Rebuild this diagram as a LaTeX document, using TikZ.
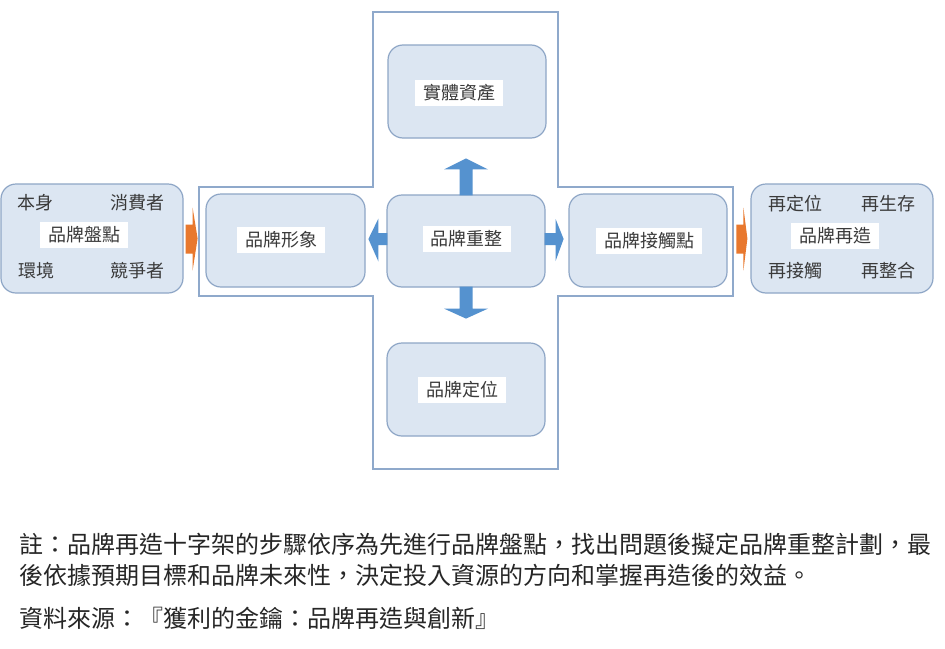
\documentclass[tikz,border=0pt]{standalone}
\usepackage{fontspec}
\setmainfont{Noto Sans CJK TC}
\usetikzlibrary{calc}
\definecolor{boxfill}{HTML}{DCE6F2}
\definecolor{boxline}{HTML}{8EA6C6}
\definecolor{crossline}{HTML}{8FA9CB}
\definecolor{arrblue}{HTML}{5592CF}
\definecolor{arrorange}{HTML}{E8782E}
\definecolor{txt}{HTML}{3A3A3A}
\tikzset{
  card/.style={draw=boxline, line width=1.2pt, fill=boxfill, rounded corners=15pt, inner sep=0pt},
  tag/.style={fill=white, inner xsep=8pt, inner ysep=5pt, text=txt, font=\fontsize{18}{21}\selectfont},
  corner/.style={inner sep=0pt, text=txt, font=\fontsize{18}{21}\selectfont},
  blockblue/.style={fill=arrblue, draw=none},
  blockorange/.style={fill=arrorange, draw=none},
  note/.style={anchor=west, inner sep=0pt, text=black!85, font=\fontsize{24}{28}\selectfont}
}
\begin{document}
\begin{tikzpicture}[x=1pt,y=-1pt]
\useasboundingbox (0,0) rectangle (945,648);
\fill[white] (0,0) rectangle (945,648);
% cross outline
\draw[crossline, line width=1.2pt] (373,12) -- (558,12) -- (558,187) -- (733,187) -- (733,296) -- (558,296) -- (558,469) -- (373,469) -- (373,296) -- (199,296) -- (199,187) -- (373,187) -- cycle;
% boxes
\node[card, minimum width=182pt, minimum height=109pt] (lbox) at (92,238.5) {};
\node[card, minimum width=182pt, minimum height=109pt] (rbox) at (842,238.5) {};
\node[card, minimum width=159pt, minimum height=93pt] (image) at (285.5,240.5) {};
\node[card, minimum width=158pt, minimum height=92pt] (core) at (466,241) {};
\node[card, minimum width=158pt, minimum height=93pt] (touch) at (648,240.5) {};
\node[card, minimum width=158pt, minimum height=93pt] (asset) at (467,91.5) {};
\node[card, minimum width=158pt, minimum height=93pt] (posn) at (466,389.5) {};
% labels
\node[tag] (limg) at (281,240) {品牌形象};
\node[tag] (lcore) at (466.5,239) {品牌重整};
\node[tag] (ltouch) at (649,241) {品牌接觸點};
\node[tag] (lasset) at (459,93) {實體資產};
\node[tag] (lposn) at (462,390) {品牌定位};
\node[tag] (linv) at (84,235) {品牌盤點};
\node[tag] (lre) at (835,236) {品牌再造};
\node[corner] (c1) at (35,203) {本身};
\node[corner] (c2) at (137,203) {消費者};
\node[corner] (c3) at (36,271) {環境};
\node[corner] (c4) at (137,271) {競爭者};
\node[corner] (c5) at (795,204) {再定位};
\node[corner] (c6) at (888,204) {再生存};
\node[corner] (c7) at (795,271) {再接觸};
\node[corner] (c8) at (888,271) {再整合};
% blue block arrows
\fill[blockblue] ($(core.north)+(-6.5,1)$) -- ++(0,-26) -- ++(-15.5,0) -- ($(core.north)+(0,-36)$) -- ($(core.north)+(22,-25)$) -- ++(-15.5,0) -- ($(core.north)+(6.5,1)$) -- cycle;
\fill[blockblue] ($(core.south)+(-6.5,-1)$) -- ++(0,22) -- ++(-15.5,0) -- ($(core.south)+(0,31)$) -- ($(core.south)+(22,21)$) -- ++(-15.5,0) -- ($(core.south)+(6.5,-1)$) -- cycle;
\fill[blockblue] ($(core.west)+(1,-8)$) -- ++(-9,0) -- ++(0,-14.5) -- ($(core.west)+(-18,-2)$) -- ($(core.west)+(-8,20.5)$) -- ++(0,-16.5) -- ($(core.west)+(1,4)$) -- cycle;
\fill[blockblue] ($(core.east)+(-1,-8)$) -- ++(11,0) -- ++(0,-14) -- ($(core.east)+(18,-2)$) -- ($(core.east)+(10,20)$) -- ++(0,-16) -- ($(core.east)+(-1,4)$) -- cycle;
% orange block arrows
\fill[blockorange] ($(lbox.east)+(2,-14)$) -- ++(7,0) -- ++(0,-17) -- ($(lbox.east)+(14,0)$) -- ($(lbox.east)+(9,32)$) -- ++(0,-17) -- ($(lbox.east)+(2,15)$) -- cycle;
\fill[blockorange] ($(rbox.west)+(-14,-14)$) -- ++(7,0) -- ++(0,-17) -- ($(rbox.west)+(-3,0)$) -- ($(rbox.west)+(-7,32)$) -- ++(0,-17) -- ($(rbox.west)+(-14,15)$) -- cycle;
% footnote
\node[note] (n1) at (19,544) {註：品牌再造十字架的步驟依序為先進行品牌盤點，找出問題後擬定品牌重整計劃，最};
\node[note] (n2) at (19,575) {後依據預期目標和品牌未來性，決定投入資源的方向和掌握再造後的效益。};
\node[note] (n3) at (19,618) {資料來源：『獲利的金鑰：品牌再造與創新』};
\end{tikzpicture}
\end{document}
